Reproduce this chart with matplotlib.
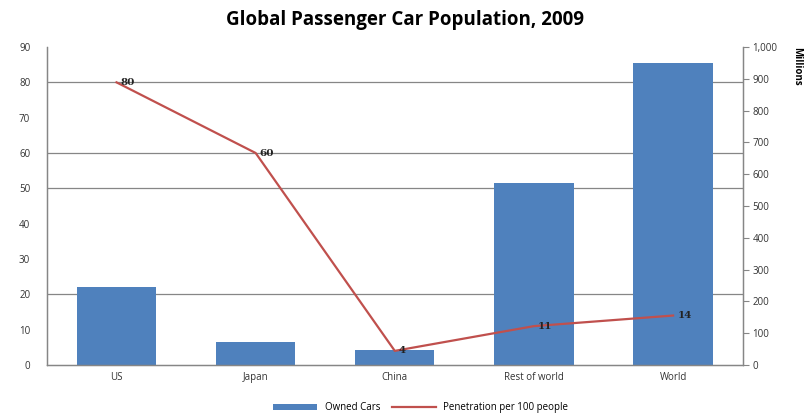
import numpy as np
import matplotlib
matplotlib.use('Agg')
import matplotlib.pyplot as plt
from matplotlib.ticker import FuncFormatter

# data
regions = ['US', 'Japan', 'China', 'Rest of world', 'World']
owned_cars = [245, 72, 47, 572, 950]          # millions (right axis)
penetration = [80, 60, 4, 11, 14]             # per 100 people (left axis)
grid_levels = [20, 50, 60, 80]                # gridlines visible in the reference

plt.rcParams['font.family'] = ['Open Sans', 'DejaVu Sans']

fig = plt.figure(figsize=(8.09, 4.16), dpi=100)
ax = fig.add_axes([0.058, 0.1226, 0.860, 0.7644])
ax2 = ax.twinx()

x = np.arange(len(regions))
bar_col = '#4F81BD'
line_col = '#C0504D'
grey = '#868686'

# bars on the secondary (right) axis, drawn underneath
ax2.bar(x, owned_cars, width=0.57, color=bar_col, zorder=2, label='Owned Cars')
for g in grid_levels:
    ax2.axhline(g * 1000 / 90, color=grey, lw=0.9, zorder=1)
ax2.set_ylim(0, 1000)
ax2.set_yticks(np.arange(0, 1001, 100))
ax2.yaxis.set_major_formatter(FuncFormatter(lambda v, p: '{:,.0f}'.format(v)))
ax2.tick_params(axis='y', direction='out', length=4, color=grey, labelsize=7,
                labelcolor='#333333', pad=3)

# line on the primary (left) axis, drawn on top
ax.set_zorder(ax2.get_zorder() + 1)
ax.patch.set_visible(False)
ax.plot(x, penetration, color=line_col, lw=1.6, zorder=3,
        label='Penetration per 100 people')
for xi, v in zip(x, penetration):
    ax.annotate(str(v), (xi, v), xytext=(3, 0), textcoords='offset points',
                fontsize=7.5, fontweight='bold', family='DejaVu Serif',
                color='#222222', va='center', ha='left')
ax.set_ylim(0, 90)
ax.set_yticks(np.arange(0, 91, 10))
ax.set_xlim(-0.5, len(regions) - 0.5)
ax.set_xticks(x)
ax.set_xticklabels(regions)
ax.tick_params(axis='y', length=0, labelsize=7, labelcolor='#333333', pad=12)
ax.tick_params(axis='x', length=0, labelsize=7, labelcolor='#333333', pad=5)

for a in (ax, ax2):
    a.spines['top'].set_visible(False)
    for s in ('left', 'right', 'bottom'):
        a.spines[s].set_color(grey)
        a.spines[s].set_linewidth(0.9)

fig.text(0.985, 0.84, 'Millions', rotation=270, fontsize=7, fontweight='bold',
         ha='center', va='center')
fig.suptitle('Global Passenger Car Population, 2009', fontsize=13.5,
             fontweight='bold', y=0.975)

h1, l1 = ax2.get_legend_handles_labels()
h2, l2 = ax.get_legend_handles_labels()
fig.legend(h1 + h2, l1 + l2, loc='center', bbox_to_anchor=(0.52, 0.02),
           ncol=2, frameon=False, fontsize=7, handlelength=4.5,
           handleheight=0.6, columnspacing=1.2)

fig.savefig('out.png', dpi=100)
